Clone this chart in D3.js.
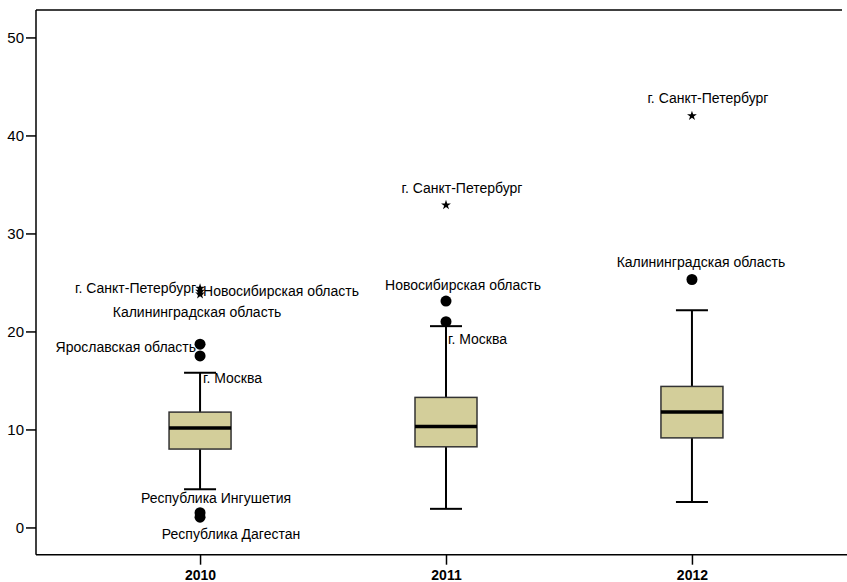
<!DOCTYPE html>
<html>
<head>
<meta charset="utf-8">
<script src="https://cdn.jsdelivr.net/npm/d3@7"></script>
<style>
  html, body { margin: 0; padding: 0; background: #fff; }
  svg { display: block; }
  text { font-family: "Liberation Sans", Arial, sans-serif; }
</style>
</head>
<body>
<svg id="chart" width="847" height="582"></svg>
<script>
// Box-plot statistics per year
const years       = ["2010", "2011", "2012"];
const q1          = [8.0, 8.23, 9.14];
const medians     = [10.16, 10.3, 11.77];
const q3          = [11.77, 13.27, 14.39];
const whiskerLow  = [3.91, 1.9, 2.61];
const whiskerHigh = [15.78, 20.54, 22.17];

// Outlying regions: kind "o" = outlier (circle), "e" = extreme (star)
const outlierYears  = ["2010", "2010", "2010", "2010", "2010", "2010", "2010", "2011", "2011", "2011", "2012", "2012"];
const outlierValues = [24.4, 24.1, 23.8, 18.7, 17.5, 1.5, 1.05, 32.9, 23.1, 21.0, 42.0, 25.3];
const outlierKinds  = ["e", "e", "e", "o", "o", "o", "o", "e", "o", "o", "e", "o"];
const outlierNames  = [
  "г. Санкт-Петербург", "Новосибирская область", "Калининградская область",
  "Ярославская область", "г. Москва", "Республика Ингушетия", "Республика Дагестан",
  "г. Санкт-Петербург", "Новосибирская область", "г. Москва",
  "г. Санкт-Петербург", "Калининградская область"
];

// Label placement relative to each marker: [dx, dy, anchor]
const labelPlacement = [
  [-4, 0, "end"], [3, 0, "start"], [-3, 18, "middle"],
  [-4, 3, "end"], [3, 22, "start"], [16, -15, "middle"], [31, 17, "middle"],
  [16, -17, "middle"], [17, -16, "middle"], [2, 17, "start"],
  [16, -18, "middle"], [9, -17, "middle"]
];

const yTicks = [0, 10, 20, 30, 40, 50];

const svg = d3.select("#chart");
const W = 847, H = 582;
const plotLeft = 36, plotTop = 10, plotBottom = 554.7, plotRight = 856;

const x = d3.scalePoint().domain(years).range([plotLeft, plotRight]).padding(0.667);
const y = d3.scaleLinear().domain([-2.78, 52.8]).range([plotBottom, plotTop]);

const boxW = 62, capW = 32;

// Frame
svg.append("line").attr("x1", plotLeft).attr("x2", 842).attr("y1", plotTop).attr("y2", plotTop)
  .attr("stroke", "#000").attr("stroke-width", 1.5);

// Axes
const yAxis = d3.axisLeft(y).tickValues(yTicks).tickSize(10).tickPadding(2).tickFormat(d3.format("d"));
const gy = svg.append("g").attr("transform", `translate(${plotLeft},0)`).call(yAxis);
gy.select(".domain").attr("d", `M0,${plotTop}V${plotBottom}`).attr("stroke-width", 1.5);
gy.selectAll(".tick line").attr("stroke-width", 1.5);
gy.selectAll(".tick text").attr("font-size", 15).attr("fill", "#000")
  .attr("font-family", "'Liberation Sans', Arial, sans-serif");

const xAxis = d3.axisBottom(x).tickSize(10).tickPadding(5);
const gx = svg.append("g").attr("transform", `translate(0,${plotBottom})`).call(xAxis);
gx.select(".domain").attr("d", `M${plotLeft},0H${W}`).attr("stroke-width", 1.5);
gx.selectAll(".tick line").attr("stroke-width", 1.5);
gx.selectAll(".tick text").attr("font-size", 14).attr("font-weight", "bold").attr("fill", "#000")
  .attr("font-family", "'Liberation Sans', Arial, sans-serif");

// Boxes
const stats = years.map((yr, i) => ({
  yr, q1: q1[i], med: medians[i], q3: q3[i], lo: whiskerLow[i], hi: whiskerHigh[i]
}));

const g = svg.append("g");
stats.forEach(s => {
  const cx = x(s.yr);
  // whiskers
  g.append("line").attr("x1", cx).attr("x2", cx).attr("y1", y(s.hi)).attr("y2", y(s.q3))
    .attr("stroke", "#000").attr("stroke-width", 2);
  g.append("line").attr("x1", cx).attr("x2", cx).attr("y1", y(s.q1)).attr("y2", y(s.lo))
    .attr("stroke", "#000").attr("stroke-width", 2);
  g.append("line").attr("x1", cx - capW / 2).attr("x2", cx + capW / 2).attr("y1", y(s.hi)).attr("y2", y(s.hi))
    .attr("stroke", "#000").attr("stroke-width", 2);
  g.append("line").attr("x1", cx - capW / 2).attr("x2", cx + capW / 2).attr("y1", y(s.lo)).attr("y2", y(s.lo))
    .attr("stroke", "#000").attr("stroke-width", 2);
  // box
  g.append("rect").attr("x", cx - boxW / 2).attr("width", boxW)
    .attr("y", y(s.q3)).attr("height", y(s.q1) - y(s.q3))
    .attr("fill", "#d3ce9a").attr("stroke", "#333").attr("stroke-width", 1.5);
  // median
  g.append("line").attr("x1", cx - boxW / 2).attr("x2", cx + boxW / 2).attr("y1", y(s.med)).attr("y2", y(s.med))
    .attr("stroke", "#000").attr("stroke-width", 3.5);
});

// Outliers and their labels
const star = d3.symbol().type(d3.symbolStar).size(30);
outlierValues.forEach((v, i) => {
  const cx = x(outlierYears[i]), cy = y(v);
  if (outlierKinds[i] === "e") {
    g.append("path").attr("d", star()).attr("transform", `translate(${cx},${cy})`)
      .attr("fill", "#000");
  } else {
    g.append("circle").attr("cx", cx).attr("cy", cy).attr("r", 5.5).attr("fill", "#000");
  }
  const [dx, dy, anchor] = labelPlacement[i];
  g.append("text").attr("x", cx + dx).attr("y", cy + dy)
    .attr("dy", "0.35em").attr("text-anchor", anchor)
    .attr("font-size", 14).attr("fill", "#000")
    .text(outlierNames[i]);
});
</script>
</body>
</html>
